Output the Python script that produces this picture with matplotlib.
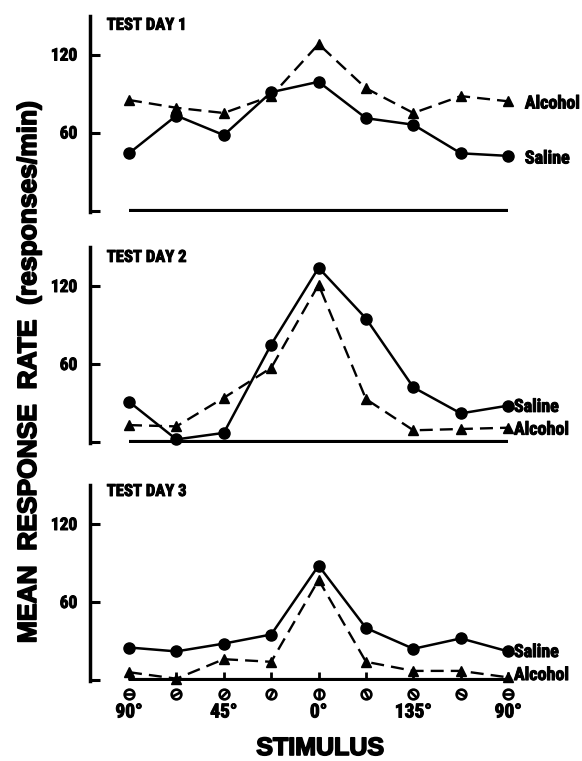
import matplotlib
matplotlib.use("Agg")
import matplotlib.pyplot as plt
from matplotlib.markers import MarkerStyle
from matplotlib.transforms import Affine2D
from matplotlib import font_manager
import matplotlib.patheffects as pe
import numpy as np

# ---------------- data ----------------
stimulus_deg = [90, 67.5, 45, 22.5, 0, 157.5, 135, 112.5, 90]
stim_labels = ["90°", "", "45°", "", "0°", "", "135°", "", "90°"]
panel_titles = ["TEST DAY 1", "TEST DAY 2", "TEST DAY 3"]

saline_day1 = [44, 73, 58, 91, 99, 71, 66, 44, 42]
alcohol_day1 = [85, 79, 75, 88, 128, 94, 75, 88, 84]
saline_day2 = [31, 2, 7, 75, 134, 95, 42, 22, 28]
alcohol_day2 = [13, 12, 34, 57, 121, 33, 9, 10, 11]
saline_day3 = [25, 22, 28, 35, 88, 40, 24, 32, 22]
alcohol_day3 = [6, 1, 16, 14, 77, 14, 7, 7, 2]

ytick_values = [0, 60, 120]
ytick_labels = ["", "60", "120"]

# ---------------- fonts ----------------
avail = {f.name for f in font_manager.fontManager.ttflist}
cond = "DejaVu Sans"
for cand in ["Liberation Sans Narrow", "Roboto Condensed", "Open Sans Condensed", "Liberation Sans"]:
    if cand in avail:
        cond = cand
        break
heavy = "Liberation Sans" if "Liberation Sans" in avail else "DejaVu Sans"
thick = [pe.withStroke(linewidth=0.7, foreground="black")]
thick2 = [pe.withStroke(linewidth=1.2, foreground="black")]

W, H = 582, 761
fig = plt.figure(figsize=(W / 100, H / 100), dpi=100)

k = 1.3              # px per data unit
x0_px, dx_px = 129, 47.4
left_px = 90
zero_px = [210.5, 442, 680]
ylo, yhi = -1, 150

xlim = ((left_px - x0_px) / dx_px, (W - x0_px) / dx_px)
x = np.arange(len(stimulus_deg))

saline = [saline_day1, saline_day2, saline_day3]
alcohol = [alcohol_day1, alcohol_day2, alcohol_day3]
label_x = [8.35, 8.12, 8.12]
title_y = [142.5, 142, 145]
sal_off = [-2, -1, -0.5]
alc_off = [-1.7, -1.5, 1.8]

for p in range(3):
    top_px = zero_px[p] - yhi * k
    bot_px = zero_px[p] - ylo * k
    ax = fig.add_axes([left_px / W, 1 - bot_px / H, 1 - left_px / W, (bot_px - top_px) / H])
    ax.set_xlim(*xlim)
    ax.set_ylim(ylo, yhi)
    for s in ["top", "right", "bottom"]:
        ax.spines[s].set_visible(False)
    ax.spines["left"].set_linewidth(2.5)
    ax.set_xticks([])
    ax.set_yticks(ytick_values)
    ax.set_yticklabels(ytick_labels)
    ax.tick_params(axis="y", direction="in", length=7, width=2.2, pad=9)
    for t in ax.get_yticklabels():
        t.set_fontfamily(cond)
        t.set_fontweight("bold")
        t.set_fontsize(12.5)
        t.set_path_effects(thick)

    # baseline
    ax.hlines(0, x[0], x[-1], color="black", lw=3, zorder=2)
    if p == 2:
        ax.vlines(x, 0, 6, color="black", lw=2, zorder=2)

    ax.plot(x, saline[p], color="black", lw=1.8, marker="o", ms=8, zorder=4, clip_on=False)
    ax.plot(x, alcohol[p], color="black", lw=1.7, ls=(0, (5.5, 3)), marker="^", ms=7,
            zorder=3, clip_on=False)

    ax.text(-0.47, title_y[p], panel_titles[p], fontfamily=cond, fontweight="bold",
            fontsize=12, ha="left", va="center", path_effects=thick)

    ax.text(label_x[p], saline[p][-1] + sal_off[p], "Saline", fontfamily=cond,
            fontweight="bold", fontsize=13, ha="left", va="center", clip_on=False,
            path_effects=thick)
    ax.text(label_x[p], alcohol[p][-1] + alc_off[p], "Alcohol", fontfamily=cond,
            fontweight="bold", fontsize=13, ha="left", va="center", clip_on=False,
            path_effects=thick)

    if p == 2:
        ysym = -10.8
        for xi, deg in zip(x, stimulus_deg):
            ax.plot([xi], [ysym], marker="o", ms=7, mfc="none", mec="black", mew=1.9,
                    clip_on=False, ls="none")
            ms = MarkerStyle("_", transform=Affine2D().rotate_deg(90 - deg))
            ax.plot([xi], [ysym], marker=ms, ms=7, mec="black", mew=1.9, clip_on=False,
                    ls="none")
        for xi, lab in zip(x, stim_labels):
            if lab:
                ax.text(xi, -25, lab, fontfamily=cond, fontweight="bold", fontsize=14,
                        ha="center", va="center", clip_on=False, path_effects=thick)

fig.text(320 / W, 1 - 748 / H, "STIMULUS", fontfamily=heavy, fontweight="bold",
         fontsize=18, ha="center", va="center", path_effects=thick2)
fig.text(29 / W, 1 - 372 / H, "MEAN  RESPONSE  RATE  (responses/min)", fontfamily=heavy,
         fontweight="bold", fontsize=19, ha="center", va="center", rotation=90,
         path_effects=thick2)

fig.savefig("out.png", dpi=100, facecolor="white")
